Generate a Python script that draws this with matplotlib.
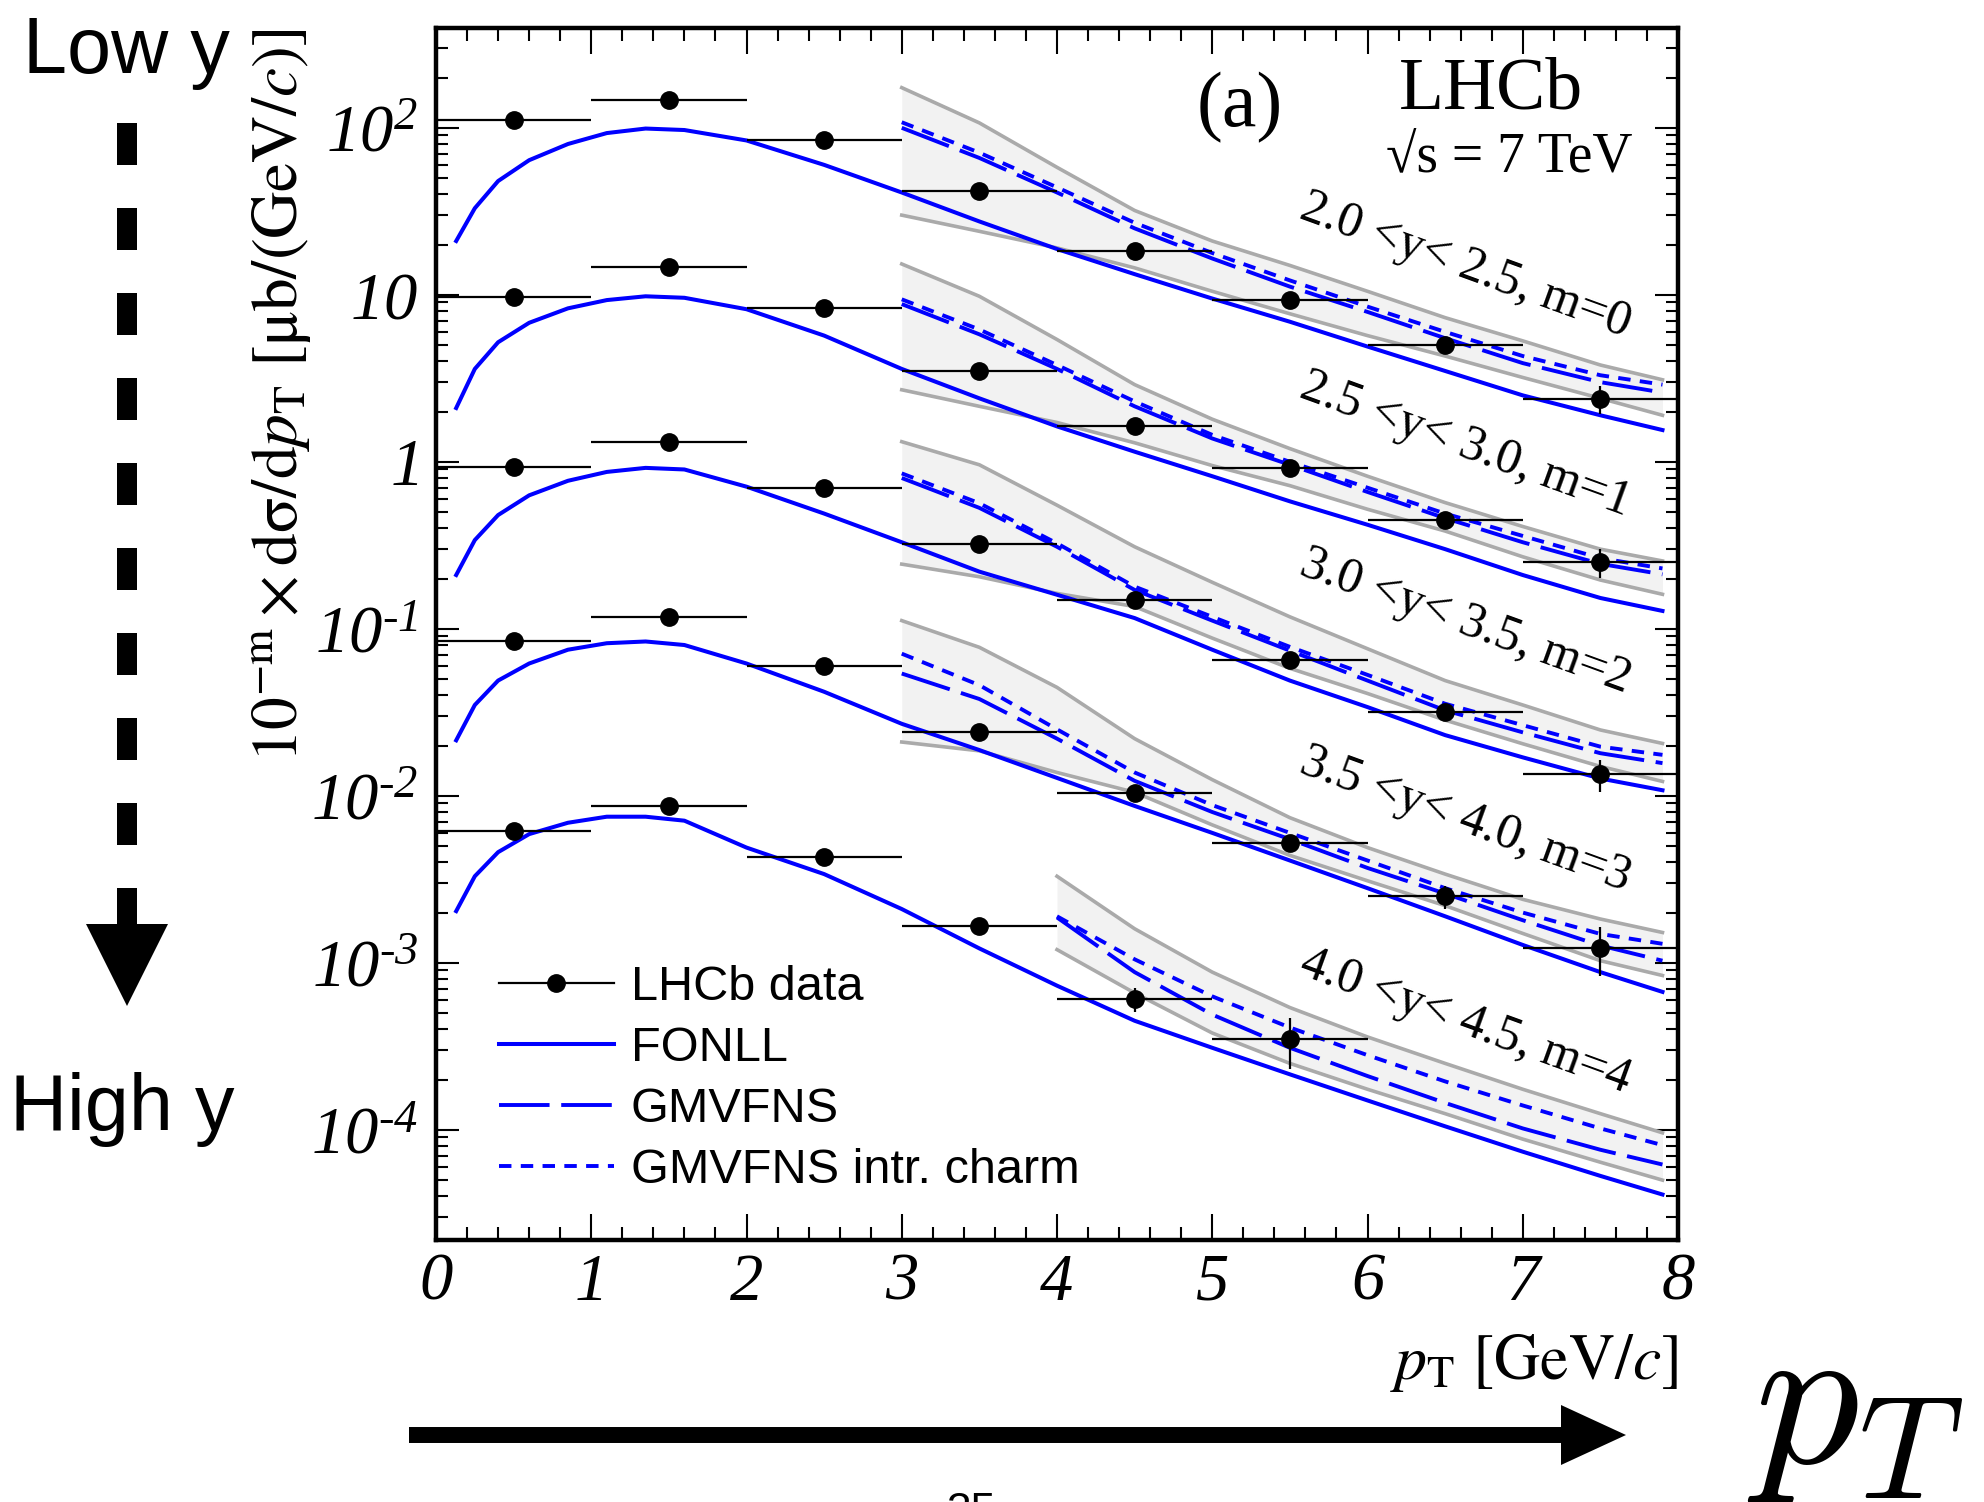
import numpy as np
import matplotlib
matplotlib.use("Agg")
import matplotlib.pyplot as plt
from matplotlib.lines import Line2D
from matplotlib.patches import Polygon
from matplotlib.ticker import LogLocator, NullFormatter, MultipleLocator

plt.rcParams['font.family'] = ['Liberation Serif', 'DejaVu Serif']
# custom math set is only used for the italic tick labels
plt.rcParams['mathtext.fontset'] = 'custom'
plt.rcParams['mathtext.rm'] = 'Liberation Serif:italic'
plt.rcParams['mathtext.it'] = 'Liberation Serif:italic'
plt.rcParams['mathtext.bf'] = 'Liberation Serif:bold'

# ---- data ----
pt_data = [0.5, 1.5, 2.5, 3.5, 4.5, 5.5, 6.5, 7.5]
data_m0 = [111, 147, 85, 41.8, 18.4, 9.3, 5.0, 2.39]
data_m1 = [9.7, 14.7, 8.3, 3.5, 1.63, 0.92, 0.45, 0.252]
data_m2 = [0.93, 1.32, 0.70, 0.322, 0.149, 0.065, 0.0316, 0.0135]
data_m3 = [0.084, 0.117, 0.060, 0.024, 0.0104, 0.00525, 0.0025, 0.00123]
data_m4 = [0.0062, 0.0087, 0.0043, 0.00166, 0.00061, 0.00035]
err_m0 = [2, 2.5, 1.5, 0.8, 0.5, 0.35, 0.4, 0.45]
err_m1 = [0.18, 0.25, 0.15, 0.07, 0.04, 0.03, 0.05, 0.05]
err_m2 = [0.02, 0.025, 0.014, 0.007, 0.004, 0.002, 0.0035, 0.003]
err_m3 = [0.002, 0.0025, 0.0012, 0.0006, 0.0004, 0.0006, 0.0004, 0.0004]
err_m4 = [0.00015, 0.0002, 0.0001, 0.00005, 0.0001, 0.00012]

# FONLL
pt_fonll = [0.13, 0.25, 0.4, 0.6, 0.85, 1.1, 1.35, 1.6, 2.0, 2.5,
            3.0, 3.5, 4.0, 4.5, 5.0, 5.5, 6.0, 6.5, 7.0, 7.5, 7.9]
fonll_m0 = [21, 33, 48, 64, 80, 93, 99, 97, 84, 60,
            41, 27.5, 18.8, 13.3, 9.5, 6.9, 4.9, 3.5, 2.5, 1.9, 1.55]
fonll_m1 = [2.1, 3.6, 5.2, 6.8, 8.3, 9.3, 9.8, 9.6, 8.2, 5.7,
            3.6, 2.4, 1.63, 1.15, 0.82, 0.58, 0.42, 0.30, 0.21, 0.153, 0.128]
fonll_m2 = [0.21, 0.34, 0.48, 0.63, 0.77, 0.87, 0.92, 0.9, 0.71, 0.49,
            0.33, 0.22, 0.16, 0.116, 0.075, 0.049, 0.034, 0.0231, 0.017, 0.0127, 0.0108]
fonll_m3 = [0.0215, 0.035, 0.049, 0.062, 0.075, 0.082, 0.084, 0.08, 0.062, 0.042,
            0.027, 0.0188, 0.0128, 0.0087, 0.006, 0.0041, 0.0028, 0.0019, 0.00128, 0.00088, 0.00067]
fonll_m4 = [0.00204, 0.0033, 0.0046, 0.0059, 0.0069, 0.0075, 0.0075, 0.0071, 0.0049, 0.0034,
            0.0021, 0.00122, 0.00073, 0.00045, 0.00031, 0.000215, 0.00015, 0.000105, 7.4e-5, 5.3e-5, 4.1e-5]

# GMVFNS band, central, intrinsic charm
pt_gm = [3.0, 3.5, 4.0, 4.5, 5.0, 5.5, 6.0, 6.5, 7.0, 7.5, 7.9]
pt_gm4 = [4.0, 4.5, 5.0, 5.5, 6.0, 6.5, 7.0, 7.5, 7.9]
up_m0 = [174, 107, 58, 32, 21, 15, 10.5, 7.3, 5.3, 3.8, 3.1]
ic_m0 = [108, 71, 44, 27, 17.8, 12.2, 8.5, 6.0, 4.3, 3.3, 2.9]
gm_m0 = [100, 66, 41, 25, 16.5, 11.2, 7.9, 5.5, 3.9, 3.0, 2.6]
lo_m0 = [30, 24, 19.1, 14.5, 10.5, 7.7, 5.7, 4.3, 3.2, 2.4, 1.9]
up_m1 = [15.3, 9.8, 5.4, 2.9, 1.8, 1.2, 0.82, 0.57, 0.41, 0.3, 0.255]
ic_m1 = [9.4, 6.2, 3.8, 2.3, 1.45, 1.0, 0.7, 0.49, 0.36, 0.265, 0.23]
gm_m1 = [8.8, 5.8, 3.6, 2.15, 1.38, 0.96, 0.66, 0.46, 0.33, 0.245, 0.212]
lo_m1 = [2.7, 2.15, 1.72, 1.3, 0.95, 0.72, 0.52, 0.385, 0.27, 0.196, 0.161]
up_m2 = [1.32, 0.96, 0.55, 0.31, 0.19, 0.118, 0.076, 0.049, 0.035, 0.0248, 0.0206]
ic_m2 = [0.853, 0.565, 0.325, 0.179, 0.118, 0.078, 0.053, 0.0356, 0.0265, 0.0197, 0.0176]
gm_m2 = [0.80, 0.53, 0.31, 0.171, 0.112, 0.074, 0.049, 0.0325, 0.024, 0.018, 0.0157]
lo_m2 = [0.244, 0.205, 0.163, 0.136, 0.088, 0.058, 0.041, 0.0284, 0.0205, 0.015, 0.0122]
up_m3 = [0.112, 0.0775, 0.0446, 0.022, 0.0125, 0.0074, 0.0049, 0.0034, 0.0024, 0.00183, 0.00152]
ic_m3 = [0.071, 0.046, 0.025, 0.0138, 0.0088, 0.006, 0.0041, 0.0028, 0.002, 0.00149, 0.0013]
gm_m3 = [0.054, 0.038, 0.022, 0.0123, 0.008, 0.0055, 0.0037, 0.0026, 0.0018, 0.00127, 0.00103]
lo_m3 = [0.021, 0.0186, 0.0138, 0.0105, 0.0067, 0.0044, 0.0031, 0.0022, 0.0015, 0.00103, 0.00084]
up_m4 = [0.0033, 0.0016, 0.00088, 0.00054, 0.00036, 0.00025, 0.000175, 0.000125, 9.6e-5]
ic_m4 = [0.0019, 0.00105, 0.00063, 0.00041, 0.00028, 0.000195, 0.00014, 0.000102, 8.1e-5]
gm_m4 = [0.00187, 0.00088, 0.00049, 0.00031, 0.00021, 0.000145, 0.000102, 7.6e-5, 6.2e-5]
lo_m4 = [0.0012, 0.00066, 0.00038, 0.00025, 0.000175, 0.000125, 8.8e-5, 6.4e-5, 5.0e-5]

bin_labels = ["2.0 <y< 2.5, m=0", "2.5 <y< 3.0, m=1", "3.0 <y< 3.5, m=2",
              "3.5 <y< 4.0, m=3", "4.0 <y< 4.5, m=4"]
label_ypos = [0.804, 0.656, 0.51, 0.347, 0.18]

series = [
    (data_m0, err_m0, fonll_m0, pt_gm, up_m0, lo_m0, gm_m0, ic_m0),
    (data_m1, err_m1, fonll_m1, pt_gm, up_m1, lo_m1, gm_m1, ic_m1),
    (data_m2, err_m2, fonll_m2, pt_gm, up_m2, lo_m2, gm_m2, ic_m2),
    (data_m3, err_m3, fonll_m3, pt_gm, up_m3, lo_m3, gm_m3, ic_m3),
    (data_m4, err_m4, fonll_m4, pt_gm4, up_m4, lo_m4, gm_m4, ic_m4),
]

BLUE = '#0000ff'
GREY = '#aaaaaa'
DASH = (13, 3)
DOT = (3.2, 2.4)
W, H = 1984, 1502

fig = plt.figure(figsize=(W / 100, H / 100), dpi=100)

# overlay in pixel coords for the slide annotations
ov = fig.add_axes([0, 0, 1, 1])
ov.set_xlim(0, W)
ov.set_ylim(H, 0)
ov.axis('off')

ax = fig.add_axes([436 / W, 1 - 1240 / H, (1678 - 436) / W, (1240 - 28) / H])
ax.set_yscale('log')
ax.set_xlim(0, 8)
ax.set_ylim(2.19e-5, 396)

for i, (dat, err, fon, xg, up, lo, gm, ic) in enumerate(series):
    ax.fill_between(xg, lo, up, color='#f2f2f2', lw=0, zorder=1)
    ax.plot(xg, up, color=GREY, lw=2.6, zorder=2)
    ax.plot(xg, lo, color=GREY, lw=2.6, zorder=2)
    ax.plot(xg, gm, color=BLUE, lw=2.8, dashes=DASH, zorder=3)
    ax.plot(xg, ic, color=BLUE, lw=2.8, dashes=DOT, zorder=3)
    ax.plot(pt_fonll, fon, color=BLUE, lw=2.9, zorder=3)
    n = len(dat)
    ax.errorbar(pt_data[:n], dat, xerr=0.5, yerr=err, fmt='o', color='k',
                ms=12.5, elinewidth=1.6, capsize=0, zorder=5)
    ax.text(0.829, label_ypos[i], bin_labels[i], rotation=-20, transform=ax.transAxes,
            ha='center', va='center', fontsize=36, rotation_mode='anchor')

# axes styling
for sp in ax.spines.values():
    sp.set_linewidth(3.2)
ax.xaxis.set_minor_locator(MultipleLocator(0.2))
ax.set_xticks(range(9))
ax.set_xticklabels([str(v) for v in range(9)], fontstyle='italic')
ax.set_yticks([1e-4, 1e-3, 1e-2, 1e-1, 1, 10, 100])
ax.set_yticklabels([r'$10^{‐4}$', r'$10^{‐3}$', r'$10^{‐2}$', r'$10^{‐1}$',
                    r'$1$', r'$10$', r'$10^{2}$'])
ax.yaxis.set_minor_locator(LogLocator(base=10, subs=np.arange(2, 10), numticks=100))
ax.yaxis.set_minor_formatter(NullFormatter())
ax.tick_params(which='both', direction='in', top=True, right=True, width=1.5, labelsize=48)
ax.tick_params(axis='x', which='major', length=19, pad=9)
ax.tick_params(axis='x', which='minor', length=9.5)
ax.tick_params(axis='y', which='major', length=16.5, pad=13)
ax.tick_params(axis='y', which='minor', length=8.5)

ax.text(-0.124, 1.0, r'$\mathrm{10^{-m}\times dσ/d}p_{\mathrm{T}}\ \mathrm{[μb/(GeV/}c\mathrm{)]}$',
        rotation=90, transform=ax.transAxes, ha='center', va='top', fontsize=47,
        math_fontfamily='stix')
ax.text(1.0, -0.1147, r'$p_{\mathrm{T}}\ \mathrm{[GeV/}c\mathrm{]}$', transform=ax.transAxes,
        ha='right', va='baseline', fontsize=46, math_fontfamily='stix')

ax.text(0.647, 0.934, '(a)', transform=ax.transAxes, ha='center', va='center', fontsize=56)
ax.text(0.849, 0.948, 'LHCb', transform=ax.transAxes, ha='center', va='center', fontsize=53)
ax.text(0.864, 0.8925, '√s = 7 TeV', transform=ax.transAxes, ha='center', va='center', fontsize=40)

handles = [
    Line2D([], [], color='k', lw=1.6, marker='o', ms=12.5),
    Line2D([], [], color=BLUE, lw=2.9),
    Line2D([], [], color=BLUE, lw=2.8, dashes=DASH),
    Line2D([], [], color=BLUE, lw=2.8, dashes=DOT),
]
ax.legend(handles, ['LHCb data', 'FONLL', 'GMVFNS', 'GMVFNS intr. charm'],
          loc='center left', bbox_to_anchor=(0.051, 0.133), frameon=False,
          prop={'family': ['Liberation Sans', 'DejaVu Sans'], 'size': 35},
          handlelength=2.35, handletextpad=0.35, labelspacing=0.33,
          borderaxespad=0, borderpad=0)

# slide annotations around the plot
sans = ['Liberation Sans', 'DejaVu Sans']
ov.text(23, 73, 'Low y', fontsize=57, family=sans, ha='left', va='baseline')
ov.text(10, 1130, 'High y', fontsize=57, family=sans, ha='left', va='baseline')
ov.plot([126.5, 126.5], [123, 924], color='k', lw=14.4, dashes=(2.1, 2.15),
        solid_capstyle='butt', dash_capstyle='butt')
ov.add_patch(Polygon([(86, 924), (168, 924), (127, 1006)], closed=True, color='k', lw=0))
ov.plot([409, 1565], [1435, 1435], color='k', lw=11.5, solid_capstyle='butt')
ov.add_patch(Polygon([(1561, 1405), (1561, 1465), (1626, 1435)], closed=True, color='k', lw=0))
fig.text(1747 / W, 1 - 1463 / H, r'$p_T$', fontsize=150, math_fontfamily='cm',
         ha='left', va='baseline')
ov.text(971, 1492, '35', fontsize=32, family=sans, ha='center', va='top')

fig.savefig('out.png', dpi=100)
